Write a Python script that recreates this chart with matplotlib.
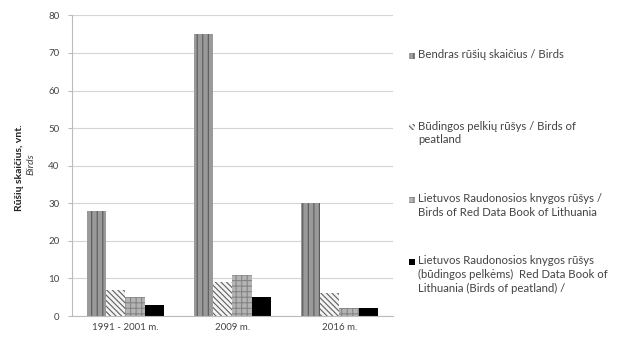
import matplotlib
matplotlib.use("Agg")
import matplotlib.pyplot as plt
import numpy as np
from matplotlib.patches import Rectangle

categories = ["1991 - 2001 m.", "2009 m.", "2016 m."]
series_labels = [
    "Bendras rūšių skaičius / Birds",
    "Būdingos pelkių rūšys / Birds of\npeatland",
    "Lietuvos Raudonosios knygos rūšys /\nBirds of Red Data Book of Lithuania",
    "Lietuvos Raudonosios knygos rūšys\n(būdingos pelkėms)  Red Data Book of\nLithuania (Birds of peatland) /",
]
total_birds = [28, 75, 30]
peatland_birds = [7, 9, 6]
red_book_birds = [5, 11, 2]
red_book_peatland = [3, 5, 2]
yticks = [0, 10, 20, 30, 40, 50, 60, 70, 80]

plt.rcParams['font.family'] = ['Lato', 'DejaVu Sans']
plt.rcParams['hatch.linewidth'] = 0.8

fig = plt.figure(figsize=(6.31, 3.38), dpi=100)
ax = fig.add_axes([72/631, 1-316/338, (393-72)/631, (316-15.4)/338])

styles = [
    dict(facecolor='#9a9a9a', hatch='|||', edgecolor='#5a5a5a'),
    dict(facecolor='#f4f4f4', hatch='\\\\\\\\\\\\', edgecolor='#606060'),
    dict(facecolor='#b4b4b4', hatch='+++', edgecolor='#858585'),
    dict(facecolor='black', hatch=None, edgecolor='black'),
]
data = [total_birds, peatland_birds, red_book_birds, red_book_peatland]
x = np.arange(len(categories))
w = 0.178
for i, (vals, st) in enumerate(zip(data, styles)):
    ax.bar(x + (i - 1.5) * w, vals, width=w, linewidth=0, **st)

ax.set_xlim(-0.5, 2.5)
ax.set_ylim(0, 80)
ax.set_yticks(yticks)
ax.set_xticks(x)
ax.set_xticklabels(categories, fontsize=7, color='#444444')
ax.tick_params(axis='y', labelsize=7, colors='#444444', length=3, color='#bbbbbb', pad=6)
ax.tick_params(axis='x', length=0, pad=5)
ax.yaxis.grid(True, color='#d4d4d4', linewidth=0.8)
ax.set_axisbelow(True)
for s in ['top', 'right']:
    ax.spines[s].set_visible(False)
ax.spines['left'].set_color('#bbbbbb')
ax.spines['bottom'].set_color('#bbbbbb')

fig.text(20/631, 1-168/338, "Rūšių skaičius, vnt.", rotation=90, fontsize=7.5,
         fontweight='bold', ha='center', va='center', color='#222222')
fig.text(30.5/631, 1-164/338, "Birds", rotation=90, fontsize=7.5,
         style='italic', ha='center', va='center', color='#444444')

first_line = [56, 127, 200, 262]
for lab, st, yf in zip(series_labels, styles, first_line):
    r = Rectangle((409/631, 1-(yf+3)/338), 6/631, 6/338, transform=fig.transFigure,
                  facecolor=st['facecolor'], hatch=st['hatch'], edgecolor=st['edgecolor'],
                  linewidth=0)
    fig.add_artist(r)
    fig.text(418/631, 1-(yf-6.5)/338, lab, fontsize=8.2, ha='left', va='top',
             color='#444444', linespacing=1.32)

fig.savefig("out.png", dpi=100)
